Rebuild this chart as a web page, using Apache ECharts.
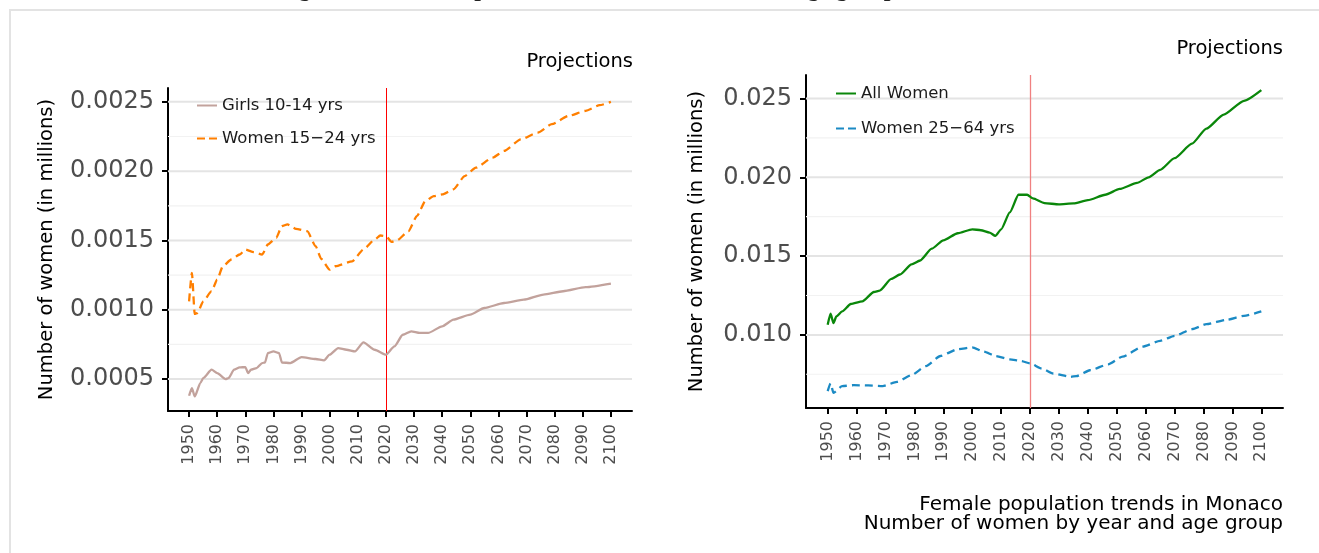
<!DOCTYPE html>
<html>
<head>
<meta charset="utf-8">
<script src="https://cdn.jsdelivr.net/npm/echarts@6/dist/echarts.min.js"></script>
<style>
html,body{margin:0;padding:0;background:#fff;}
#c{width:1319px;height:553px;}
</style>
</head>
<body>
<div id="c"></div>
<script>
// ---------- data (values in millions) ----------
const girlsYears = [1950,1951,1952,1954,1955,1958,1960,1963,1964,1966,1968,1970,1971,1972,1974,1976,1977,1978,1980,1982,1983,1986,1990,1995,1998,2000,2003,2006,2009,2012,2016,2020,2023,2026,2029,2032,2035,2040,2044,2050,2055,2062,2069,2076,2083,2091,2100];
const girlsValues = [0.000380,0.000435,0.000375,0.000471,0.000507,0.000568,0.000543,0.000500,0.000507,0.000568,0.000584,0.000587,0.000543,0.000568,0.000580,0.000616,0.000620,0.000688,0.000700,0.000688,0.000620,0.000616,0.000659,0.000645,0.000635,0.000676,0.000724,0.000712,0.000700,0.000765,0.000712,0.000676,0.000736,0.000820,0.000845,0.000833,0.000833,0.000881,0.000929,0.000965,0.001013,0.001049,0.001073,0.001110,0.001134,0.001163,0.001189];

const youngYears = [1950,1951,1952,1953,1955,1958,1960,1962,1965,1968,1970,1973,1976,1978,1981,1983,1985,1988,1992,1995,1997,2000,2002,2008,2012,2016,2018,2020,2022,2024,2028,2031,2034,2037,2040,2044,2048,2052,2058,2062,2068,2074,2079,2085,2091,2096,2100];
const youngValues = [0.001061,0.001266,0.000970,0.000977,0.001061,0.001134,0.001218,0.001314,0.001363,0.001399,0.001435,0.001416,0.001399,0.001471,0.001519,0.001604,0.001616,0.001584,0.001567,0.001459,0.001367,0.001290,0.001314,0.001350,0.001435,0.001507,0.001536,0.001531,0.001490,0.001502,0.001567,0.001676,0.001784,0.001820,0.001832,0.001869,0.001965,0.002025,0.002098,0.002146,0.002230,0.002278,0.002339,0.002399,0.002435,0.002476,0.002500];

const allYears = [1950,1951,1952,1953,1955,1958,1962,1966,1968,1972,1975,1979,1982,1986,1990,1995,2000,2003,2006,2008,2010,2013,2016,2019,2021,2025,2030,2035,2040,2046,2051,2057,2061,2065,2070,2076,2081,2087,2094,2100];
const allValues = [0.01064,0.01134,0.01075,0.01117,0.01149,0.01196,0.01213,0.01272,0.01281,0.01355,0.01383,0.01447,0.01472,0.01547,0.01600,0.01645,0.01670,0.01664,0.01649,0.01628,0.01670,0.01777,0.01889,0.01889,0.01866,0.01836,0.01828,0.01834,0.01855,0.01889,0.01926,0.01964,0.02000,0.02047,0.02121,0.02213,0.02309,0.02398,0.02485,0.02553];

const adultYears = [1950,1951,1952,1955,1959,1964,1969,1974,1979,1984,1989,1995,2000,2004,2008,2013,2017,2020,2024,2028,2034,2036,2041,2047,2052,2059,2065,2070,2076,2081,2088,2094,2100];
const adultValues = [0.00643,0.00692,0.00632,0.00675,0.00681,0.00679,0.00675,0.00702,0.00745,0.00802,0.00866,0.00909,0.00921,0.00894,0.00866,0.00845,0.00834,0.00819,0.00787,0.00755,0.00734,0.00738,0.00777,0.00813,0.00862,0.00926,0.00962,0.00994,0.01036,0.01068,0.01096,0.01121,0.01149];

const yearTicks = [1950,1960,1970,1980,1990,2000,2010,2020,2030,2040,2050,2060,2070,2080,2090,2100];
const leftMajorTicks = [0.0005,0.0010,0.0015,0.0020,0.0025];
const leftMinorTicks = [0.00075,0.00125,0.00175,0.00225];
const rightMajorTicks = [0.010,0.015,0.020,0.025];
const rightMinorTicks = [0.0075,0.0125,0.0175,0.0225];
const projectionYear = 2020;

const seriesNames = ['Girls 10-14 yrs','Women 15\u221224 yrs','All Women','Women 25\u221264 yrs'];
const yName = 'Number of women (in millions)';
const captionLines = ['Female population trends in Monaco','Number of women by year and age group'];
const topTitle = 'Number of girls and women per decade in Monaco for each age group';

// ---------- helpers ----------
const FONT = '"DejaVu Sans", "Noto Sans", sans-serif';
const X_MIN = 1942.5, X_MAX = 2107.5;
const SOLID_ICON = 'path://M0,0h20v2h-20z';
const DASH_ICON = 'path://M0,0h8v2h-8zM12,0h8v2h-8z';
function pairs(xs, ys){ return xs.map((x,i)=>[x, ys[i]]); }

function xAxisCfg(gridIndex){
  return {
    type:'value', gridIndex, min:X_MIN, max:X_MAX,
    splitLine:{show:false},
    axisLine:{show:true, onZero:false, lineStyle:{color:'#000', width:2}},
    axisTick:{show:true, length:6, lineStyle:{color:'#000', width:2}, customValues: yearTicks},
    axisLabel:{rotate:90, margin:13, fontSize:16, color:'#4d4d4d', fontFamily:FONT, customValues: yearTicks, formatter: v=>String(v)}
  };
}
function yAxisCfg(gridIndex, min, max, ticks, digits, nameGap){
  return {
    type:'value', gridIndex, min, max,
    name: yName, nameLocation:'middle', nameRotate:90, nameGap,
    nameTextStyle:{fontSize:19.5, color:'#000', fontFamily:FONT},
    splitLine:{show:false},
    axisLine:{show:true, onZero:false, lineStyle:{color:'#000', width:2}},
    axisTick:{show:true, length:6, lineStyle:{color:'#000', width:2}, customValues: ticks},
    axisLabel:{fontSize:24, color:'#4d4d4d', fontFamily:FONT, margin:14, customValues: ticks, formatter: v=>v.toFixed(digits)}
  };
}
// horizontal reference lines drawn through the axes' own scales
function gridLines(idx, major, minor){
  const out = [];
  minor.forEach(v=>out.push({type:'line', name:'_minor', xAxisIndex:idx, yAxisIndex:idx, silent:true, z:1,
    data:[[X_MIN, v],[X_MAX, v]], showSymbol:false, symbol:'none', lineStyle:{color:'#f2f2f2', width:1.2}}));
  major.forEach(v=>out.push({type:'line', name:'_major', xAxisIndex:idx, yAxisIndex:idx, silent:true, z:1,
    data:[[X_MIN, v],[X_MAX, v]], showSymbol:false, symbol:'none', lineStyle:{color:'#e4e4e4', width:2}}));
  return out;
}
function lineSeries(idx, name, xs, ys, color, dashed, vline){
  const s = {
    type:'line', name, xAxisIndex:idx, yAxisIndex:idx, data: pairs(xs, ys),
    showSymbol:false, symbol:'none', smooth:0.2, smoothMonotone:'x', z:3,
    lineStyle:{color, width:2.3, type: dashed ? [8,5] : 'solid'},
    itemStyle:{color}
  };
  if (vline) {
    s.markLine = {silent:true, z:2, symbol:['none','none'], label:{show:false}, animation:false,
      data:[{xAxis: projectionYear, lineStyle:{color:vline.color, width:vline.width, type:'solid'}}]};
  }
  return s;
}
const legendText = {fontSize:16.5, color:'#1a1a1a', fontFamily:FONT};
const capStyle = {fontSize:20, fontWeight:'normal', color:'#000', fontFamily:FONT};
const projStyle = {fontSize:19.5, fontWeight:'normal', color:'#000', fontFamily:FONT};

const chart = echarts.init(document.getElementById('c'), null, {renderer:'canvas'});
chart.setOption({
  backgroundColor:'#fff',
  animation:false,
  graphic:[
    {type:'rect', shape:{x:10, y:10, width:1340, height:600}, style:{fill:'none', stroke:'#e3e3e3', lineWidth:2}, z:-1},
    {type:'text', x:897, y:-10, style:{text: topTitle, font:'bold 24px "Liberation Serif", serif', fill:'#222', align:'right', verticalAlign:'middle'}}
  ],
  title:[
    {text:'Projections', right:686, top:52, padding:0, textStyle:projStyle},
    {text:'Projections', right:36, top:39, padding:0, textStyle:projStyle},
    {text: captionLines[0], right:36, top:495, padding:0, textStyle:capStyle},
    {text: captionLines[1], right:36, top:514, padding:0, textStyle:capStyle}
  ],
  legend:[
    {data:[{name:seriesNames[0], icon:SOLID_ICON},{name:seriesNames[1], icon:DASH_ICON}], orient:'vertical', left:192, top:92,
      itemGap:16, itemWidth:20, itemHeight:2, textStyle:legendText, selectedMode:false},
    {data:[{name:seriesNames[2], icon:SOLID_ICON},{name:seriesNames[3], icon:DASH_ICON}], orient:'vertical', left:831, top:80,
      itemGap:18, itemWidth:20, itemHeight:2, textStyle:legendText, selectedMode:false}
  ],
  grid:[
    {left:168, right:687, top:88, bottom:142, containLabel:false},
    {left:806, right:36, top:75, bottom:145, containLabel:false}
  ],
  xAxis:[xAxisCfg(0), xAxisCfg(1)],
  yAxis:[
    yAxisCfg(0, 0.00027, 0.0026, leftMajorTicks, 4, 111),
    yAxisCfg(1, 0.00536, 0.02649, rightMajorTicks, 3, 99)
  ],
  series:[].concat(
    gridLines(0, leftMajorTicks, leftMinorTicks),
    gridLines(1, rightMajorTicks, rightMinorTicks),
    [
      lineSeries(0, seriesNames[0], girlsYears, girlsValues, '#c2a29c', false, {color:'#ff0000', width:1}),
      lineSeries(0, seriesNames[1], youngYears, youngValues, '#ff7f00', true, null),
      lineSeries(1, seriesNames[2], allYears, allValues, '#0a870a', false, {color:'#f08080', width:1.3}),
      lineSeries(1, seriesNames[3], adultYears, adultValues, '#1b8ac4', true, null)
    ]
  )
});
</script>
</body>
</html>
